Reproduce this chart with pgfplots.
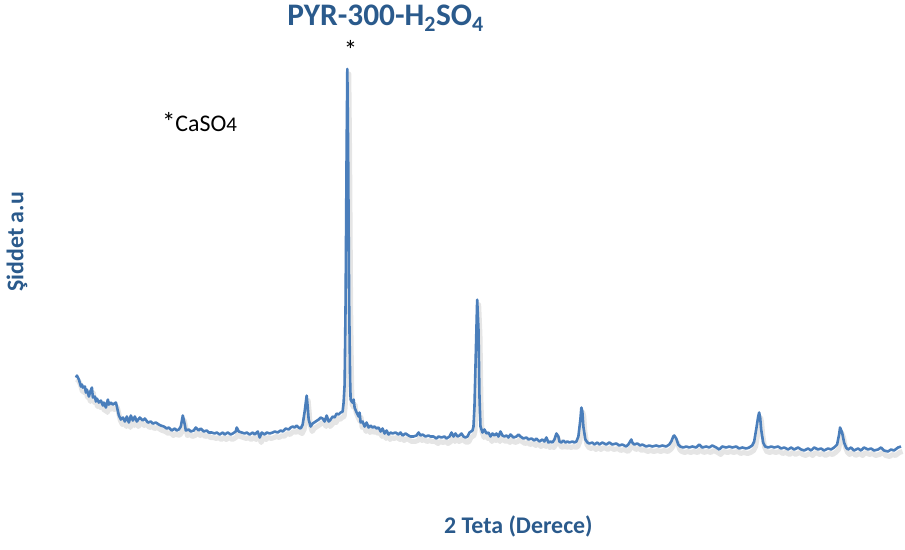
\documentclass[border=0pt]{standalone}
\usepackage{pgfplots}
\pgfplotsset{compat=1.18}
\usepackage{pgfplotstable}
\usepackage{fontspec}
\setmainfont{Carlito}
\definecolor{lineblue}{HTML}{4A7EBB}
\definecolor{txtblue}{HTML}{2A5A8C}
\pgfplotstableread{
x y
76 82
77 84
79 80
81 73
82 75
83 72
85 73
86 67
87 70
89 63
90 67
92 72
93 62
95 63
96 58
97 61
99 57
101 59
103 54
104 57
106 52
108 60
109 55
111 57
113 55
116 57
117 53
119 44
121 40
123 42
125 38
127 43
129 37
131 44
133 39
135 43
137 38
140 42
143 39
145 41
148 37
151 38
153 36
156 37
159 35
161 34
164 33
167 31
169 32
172 29
175 31
177 29
179 30
181 33
183 44
185 35
186 29
189 30
191 28
194 29
196 32
199 29
201 31
204 28
207 29
209 27
212 27
215 26
217 27
220 25
223 27
225 25
228 27
231 25
233 26
236 28
237 32
239 28
242 27
245 26
247 27
250 25
253 27
255 25
258 28
260 22
262 27
265 25
267 27
270 26
273 27
275 28
278 27
281 29
283 28
286 31
289 30
291 32
293 33
295 32
297 34
299 32
301 31
303 35
305 48
307 64
308 53
309 40
311 33
313 36
316 38
319 40
321 42
323 41
325 38
327 44
329 38
331 40
333 43
335 42
337 46
339 45
341 47
343 48
344 57
345 75
346 160
347 310
347.7 391
348.5 310
349.5 160
350.5 80
351 60
352.7 57
354 60
355 52
357 47
359 43
360 47
361 37
363 38
365 33
367 37
369 32
371 34
373 32
375 33
377 31
379 32
381 28
383 31
385 26
387 29
389 25
391 27
393 26
396 27
399 25
401 27
403 24
406 26
409 24
411 23
414 23
417 24
419 27
421 24
423 25
426 23
429 24
431 23
434 23
437 21
439 23
442 22
445 23
447 21
450 23
452 27
454 23
456 26
458 23
460 24
462 26
464 23
466 22
468 23
470 27
473 29
474 33
475 53
476.5 113
477.7 160
479 130
480 63
481 33
483 27
485 30
487 26
489 27
491 23
493 26
495 24
497 26
499 23
501 28
503 24
505 23
507 24
509 22
511 25
514 22
517 23
519 25
521 23
524 21
527 22
529 20
532 21
535 19
537 21
540 18
543 20
545 18
547 22
549 17
551 18
553 17
555 20
557 26
559 23
560 18
562 17
564 19
566 17
568 18
570 17
573 18
575 17
577 18
579 23
581 40
582 52
583 48
584 33
586 20
588 17
590 16
593 17
595 15
598 17
600 15
603 17
607 15
610 17
613 15
617 16
620 14
623 15
627 13
629 15
632 20
633 17
635 15
638 16
641 14
643 15
647 13
650 14
653 13
657 14
660 13
663 14
667 13
670 15
672 18
674 23
675 24
677 21
679 15
681 13
684 12
687 13
690 12
693 13
697 12
700 15
703 12
707 13
710 12
713 14
717 12
720 10
723 13
727 12
730 13
733 12
737 13
740 11
743 12
747 11
750 12
753 14
755 18
757 30
759 43
760 47
761 42
762 30
764 17
766 13
769 12
772 13
775 12
779 13
782 11
785 12
789 10
792 12
795 10
799 12
802 10
805 9
809 11
812 9
815 12
819 10
822 11
825 9
829 11
832 10
835 12
838 15
840 25
841 32
843 27
845 17
847 12
849 10
852 12
855 9
859 11
862 9
865 12
869 10
872 11
875 9
879 10
882 12
885 9
889 8
892 10
895 9
899 12
902 13
}\xrd
\begin{document}
\begin{tikzpicture}
\begin{axis}[
  width=905bp, height=550bp, scale only axis,
  xmin=0, xmax=905, ymin=-90, ymax=460,
  hide axis, clip=false,
]
\addplot[black, opacity=0.10, line width=5bp, line join=round, forget plot]
  table[x expr=\thisrow{x}+1.5, y expr=\thisrow{y}-5] {\xrd};
\addplot[lineblue, line width=2.6bp, line join=round] table[x=x, y=y] {\xrd};
\path (axis cs:0,-90) rectangle (axis cs:905,460);
\node[font=\fontsize{31.5}{36}\selectfont\bfseries, text=txtblue] at (axis cs:386,442) {PYR-300-H\textsubscript{2}SO\textsubscript{4}};
\node[font=\fontsize{27}{30}\selectfont] at (axis cs:351,410) {*};
\node[font=\fontsize{24}{28}\selectfont, anchor=west, inner sep=0pt] at (axis cs:162,338) {{\fontsize{27}{28}\selectfont *}CaSO{\fontsize{21}{24}\selectfont 4}};
\node[font=\fontsize{24}{28}\selectfont\bfseries, text=txtblue, rotate=90] at (axis cs:17,218) {Şiddet a.u};
\node[font=\fontsize{24}{28}\selectfont\bfseries, text=txtblue] at (axis cs:519,-67) {2 Teta (Derece)};
\end{axis}
\end{tikzpicture}
\end{document}
